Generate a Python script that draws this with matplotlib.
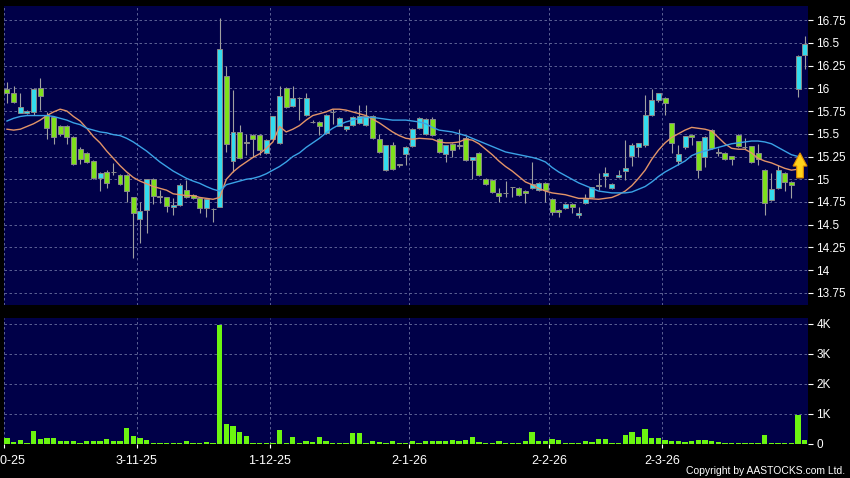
import matplotlib.pyplot as plt
from matplotlib.patches import Polygon

# daily OHLC (HKD), oldest first
opens = [15.99, 15.95, 15.73, 15.73, 15.74, 16.00, 15.71, 15.68, 15.59, 15.59,
         15.46, 15.33, 15.29, 15.20, 15.01, 15.08, 15.08, 15.05, 15.05, 14.80,
         14.56, 14.66, 15.00, 14.81, 14.80, 14.70, 14.72, 14.88, 14.83, 14.79,
         14.68, 14.67, 14.70, 16.14, 15.20, 15.52, 15.40, 15.49, 15.49, 15.29,
         15.44, 15.40, 16.00, 15.80, 15.89, 15.71, 15.63, 15.63, 15.51, 15.74,
         15.585, 15.55, 15.60, 15.615, 15.60, 15.70, 15.44, 15.10, 15.38, 15.16,
         15.28, 15.36, 15.56, 15.50, 15.66, 15.44, 15.28, 15.39, 15.37, 15.45,
         15.21, 15.29, 15.00, 14.99, 14.85, 14.85, 14.91, 14.90, 14.87, 14.90,
         14.88, 14.96, 14.78, 14.66, 14.68, 14.73, 14.61, 14.74, 14.80, 14.93,
         15.04, 14.90, 15.02, 15.09, 15.255, 15.35, 15.375, 15.71, 15.87, 15.89,
         15.615, 15.20, 15.35, 15.49, 15.415, 15.24, 15.54, 15.29, 15.29, 15.255,
         15.49, 15.35, 15.36, 15.29, 15.10, 14.77, 14.90, 15.07, 14.97, 15.99,
         16.37]
highs = [16.07, 16.02, 15.95, 15.76, 16.00, 16.11, 15.74, 15.69, 15.60, 15.60,
         15.47, 15.35, 15.30, 15.21, 15.08, 15.10, 15.18, 15.06, 15.06, 14.81,
         14.75, 15.00, 15.01, 14.88, 14.81, 14.79, 14.96, 14.99, 14.84, 14.80,
         14.79, 14.68, 16.77, 16.24, 15.98, 15.60, 15.50, 15.50, 15.50, 15.44,
         15.70, 16.02, 16.01, 16.02, 15.90, 15.95, 15.65, 15.64, 15.72, 15.77,
         15.68, 15.59, 15.69, 15.82, 15.82, 15.71, 15.50, 15.38, 15.41, 15.17,
         15.36, 15.56, 15.68, 15.67, 15.68, 15.45, 15.38, 15.40, 15.55, 15.47,
         15.25, 15.30, 15.01, 15.00, 14.90, 14.98, 14.92, 14.91, 14.88, 15.19,
         14.97, 14.97, 14.79, 14.67, 14.74, 14.74, 14.69, 14.84, 14.92, 15.07,
         15.14, 14.96, 15.10, 15.43, 15.40, 15.40, 15.93, 15.99, 15.95, 15.90,
         15.62, 15.375, 15.48, 15.50, 15.42, 15.47, 15.55, 15.34, 15.30, 15.26,
         15.50, 15.45, 15.37, 15.39, 15.11, 15.07, 15.16, 15.08, 14.98, 16.37,
         16.57]
lows = [15.84, 15.84, 15.73, 15.72, 15.71, 15.76, 15.44, 15.39, 15.47, 15.39,
        15.16, 15.17, 15.18, 15.00, 14.87, 14.90, 15.05, 14.94, 14.75, 14.13,
        14.30, 14.41, 14.73, 14.74, 14.64, 14.61, 14.71, 14.79, 14.78, 14.63,
        14.59, 14.53, 14.69, 15.30, 15.08, 15.22, 15.27, 15.25, 15.27, 15.28,
        15.43, 15.39, 15.78, 15.79, 15.65, 15.70, 15.62, 15.49, 15.50, 15.61,
        15.58, 15.53, 15.59, 15.61, 15.59, 15.44, 15.29, 15.09, 15.10, 15.14,
        15.16, 15.35, 15.55, 15.49, 15.48, 15.29, 15.19, 15.25, 15.33, 15.20,
        15.00, 15.04, 14.94, 14.85, 14.75, 14.81, 14.81, 14.82, 14.74, 14.89,
        14.87, 14.75, 14.61, 14.59, 14.67, 14.63, 14.57, 14.73, 14.79, 14.88,
        14.92, 14.89, 15.01, 14.99, 15.145, 15.24, 15.35, 15.70, 15.85, 15.71,
        15.285, 15.16, 15.33, 15.375, 15.01, 15.13, 15.33, 15.26, 15.21, 15.16,
        15.35, 15.33, 15.18, 15.16, 14.61, 14.76, 14.89, 14.87, 14.79, 15.90,
        16.21]
closes = [15.95, 15.85, 15.79, 15.745, 15.99, 15.91, 15.56, 15.46, 15.50, 15.46,
          15.17, 15.22, 15.19, 15.01, 15.07, 14.96, 15.08, 14.95, 14.87, 14.63,
          14.65, 15.00, 14.82, 14.81, 14.71, 14.72, 14.94, 14.80, 14.79, 14.68,
          14.78, 14.67, 16.43, 15.39, 15.52, 15.23, 15.40, 15.44, 15.32, 15.43,
          15.69, 15.91, 15.79, 15.89, 15.89, 15.89, 15.63, 15.59, 15.71, 15.74,
          15.67, 15.585, 15.68, 15.70, 15.70, 15.45, 15.30, 15.375, 15.11, 15.16,
          15.35, 15.55, 15.67, 15.66, 15.49, 15.30, 15.375, 15.32, 15.37, 15.21,
          15.24, 15.05, 14.95, 14.86, 14.82, 14.85, 14.91, 14.83, 14.85, 14.95,
          14.96, 14.88, 14.64, 14.64, 14.73, 14.69, 14.63, 14.78, 14.91, 14.93,
          15.07, 14.95, 15.05, 15.12, 15.375, 15.395, 15.71, 15.87, 15.945, 15.84,
          15.395, 15.275, 15.475, 15.46, 15.10, 15.46, 15.34, 15.29, 15.22, 15.22,
          15.36, 15.35, 15.19, 15.22, 14.74, 14.89, 15.10, 14.97, 14.94, 16.35,
          16.49]
# volume in thousands of shares
volumes = [0.20, 0.06, 0.13, 0.02, 0.41, 0.15, 0.18, 0.18, 0.10, 0.07,
           0.08, 0.03, 0.07, 0.08, 0.07, 0.15, 0.08, 0.08, 0.51, 0.26,
           0.17, 0.12, 0.02, 0.01, 0.03, 0.03, 0.03, 0.07, 0.03, 0.03,
           0.06, 0.01, 3.97, 0.65, 0.60, 0.38, 0.25, 0.03, 0.03, 0.02,
           0.01, 0.44, 0.03, 0.21, 0.01, 0.08, 0.04, 0.22, 0.08, 0.03,
           0.03, 0.03, 0.34, 0.34, 0.03, 0.07, 0.04, 0.01, 0.07, 0.02,
           0.01, 0.09, 0.01, 0.08, 0.08, 0.08, 0.08, 0.11, 0.09, 0.13,
           0.22, 0.06, 0.03, 0.03, 0.07, 0.02, 0.02, 0.02, 0.08, 0.38,
           0.07, 0.07, 0.14, 0.12, 0.03, 0.03, 0.03, 0.08, 0.04, 0.16,
           0.16, 0.01, 0.01, 0.27, 0.39, 0.22, 0.47, 0.19, 0.19, 0.13,
           0.10, 0.08, 0.04, 0.07, 0.13, 0.13, 0.07, 0.06, 0.03, 0.03,
           0.03, 0.02, 0.02, 0.03, 0.29, 0.03, 0.03, 0.03, 0.02, 0.97,
           0.13]
# moving averages as drawn on the chart
ma_short = [15.55, 15.54, 15.55, 15.58, 15.61, 15.65, 15.70, 15.74, 15.77, 15.75,
            15.69, 15.64, 15.56, 15.47, 15.40, 15.31, 15.23, 15.15, 15.08, 15.02,
            14.98, 14.95, 14.92, 14.90, 14.88, 14.84, 14.83, 14.82, 14.82, 14.80,
            14.79, 14.78, 14.80, 15.00, 15.08, 15.14, 15.19, 15.24, 15.28, 15.34,
            15.41, 15.58, 15.52, 15.55, 15.59, 15.65, 15.70, 15.72, 15.74, 15.77,
            15.77, 15.76, 15.74, 15.72, 15.70, 15.66, 15.62, 15.57, 15.52, 15.48,
            15.45, 15.44, 15.45, 15.445, 15.44, 15.41, 15.40, 15.40, 15.41, 15.44,
            15.43, 15.39, 15.33, 15.27, 15.20, 15.14, 15.09, 15.03, 14.97, 14.94,
            14.90, 14.87, 14.85, 14.84, 14.83, 14.81, 14.79, 14.79, 14.785, 14.78,
            14.79, 14.80, 14.83, 14.87, 14.93, 15.01, 15.10, 15.22, 15.32, 15.40,
            15.46, 15.50, 15.54, 15.57, 15.56, 15.55, 15.53, 15.46, 15.39, 15.34,
            15.33, 15.33, 15.29, 15.23, 15.20, 15.18, 15.15, 15.12, 15.10, 15.11]
ma_long = [15.64, 15.67, 15.69, 15.70, 15.70, 15.70, 15.70, 15.69, 15.67, 15.65,
           15.62, 15.60, 15.56, 15.54, 15.52, 15.51, 15.49, 15.48, 15.45, 15.41,
           15.36, 15.31, 15.25, 15.19, 15.14, 15.09, 15.05, 15.01, 14.98, 14.955,
           14.92, 14.89, 14.87, 14.94, 14.96, 14.98, 15.00, 15.01, 15.03, 15.06,
           15.10, 15.14, 15.19, 15.25, 15.29, 15.35, 15.40, 15.45, 15.51, 15.56,
           15.60, 15.63, 15.65, 15.67, 15.68, 15.68, 15.67, 15.66, 15.65, 15.65,
           15.65, 15.64, 15.63, 15.61, 15.57, 15.54, 15.53, 15.52, 15.50, 15.48,
           15.45, 15.42, 15.39, 15.36, 15.33, 15.30, 15.285, 15.27, 15.255, 15.24,
           15.22, 15.19, 15.13, 15.08, 15.04, 15.00, 14.96, 14.93, 14.90, 14.87,
           14.86, 14.85, 14.85, 14.85, 14.86, 14.89, 14.92, 14.97, 15.03, 15.08,
           15.12, 15.16, 15.20, 15.26, 15.29, 15.31, 15.33, 15.35, 15.37, 15.39,
           15.40, 15.41, 15.42, 15.42, 15.41, 15.39, 15.35, 15.31, 15.27, 15.25]

date_pos = [0, 20, 40, 61, 82, 99]
date_labels = ['2-10-25', '3-11-25', '1-12-25', '2-1-26', '2-2-26', '2-3-26']
price_ticks = [13.75, 14, 14.25, 14.5, 14.75, 15, 15.25, 15.5, 15.75, 16, 16.25, 16.5, 16.75]
price_labels = ['13.75', '14', '14.25', '14.5', '14.75', '15', '15.25', '15.5',
                '15.75', '16', '16.25', '16.5', '16.75']
vol_ticks = [0, 1, 2, 3, 4]
vol_labels = ['0', '1K', '2K', '3K', '4K']

BG = '#000048'
UP = '#33dcee'
DOWN = '#7ee01c'
VOL = '#6cf510'
EDGE = '#8a8a8a'
GRID = '#6a70a0'
FONT = 'Liberation Sans'

fig = plt.figure(figsize=(8.5, 4.78), dpi=100, facecolor='black')
W, H = 850, 478
ax = fig.add_axes([4 / W, 1 - 305 / H, 804 / W, 299 / H], facecolor=BG)
axv = fig.add_axes([4 / W, 1 - 443.5 / H, 804 / W, 125.5 / H], facecolor=BG)

n = len(closes)
xs = list(range(n))
xlim = (-0.45, n - 0.5)
grid_x = [p - 0.45 for p in date_pos]

for a in (ax, axv):
    for s in a.spines.values():
        s.set_visible(False)
    a.set_xlim(*xlim)
    for gx in grid_x:
        a.axvline(gx, color=GRID, lw=0.6, ls=(0, (3, 3)), zorder=0)
    a.yaxis.tick_right()
    a.tick_params(axis='y', colors='white', labelsize=8.5, length=3.5, width=0.8, pad=2.5)
    a.grid(axis='y', color=GRID, lw=0.6, ls=(0, (3, 3)), zorder=0)
    a.set_axisbelow(True)

# candles
ax.vlines(xs, lows, highs, color='#a0a0a0', lw=0.8, zorder=2)
for i in xs:
    o, c = opens[i], closes[i]
    if abs(c - o) < 0.001:
        fc = '#a0a0a0'
    elif c > o:
        fc = UP
    else:
        fc = DOWN
    ax.bar(i, max(abs(c - o), 0.004), bottom=min(o, c), width=0.75,
           color=fc, edgecolor=EDGE, linewidth=0.7, zorder=3)

ax.plot(range(len(ma_short)), ma_short, color='#e39468', lw=1.0, zorder=4)
ax.plot(range(len(ma_long)), ma_long, color='#3aa2e6', lw=1.0, zorder=4)

# up arrow marker at the end of the long MA
ax_x = len(ma_long) - 1 + 0.3
tip = ma_long[-1] + 0.04
hw, sw, hl, sl = 1.05, 0.5, 0.145, 0.13
arrow = Polygon([(ax_x, tip), (ax_x + hw, tip - hl), (ax_x + sw, tip - hl),
                 (ax_x + sw, tip - hl - sl), (ax_x - sw, tip - hl - sl),
                 (ax_x - sw, tip - hl), (ax_x - hw, tip - hl)],
                closed=True, facecolor='#ffd21a', edgecolor='#e08a00', lw=0.8, zorder=6)
ax.add_patch(arrow)

ax.set_ylim(13.618, 16.904)
ax.set_yticks(price_ticks)
ax.set_yticklabels(price_labels, fontfamily=FONT)
ax.set_xticks([])

# volume
axv.bar(xs, volumes, width=0.8, color=VOL, zorder=3)
axv.set_ylim(0, 4.2)
axv.set_yticks(vol_ticks)
axv.set_yticklabels(vol_labels, fontfamily=FONT)
axv.set_xticks(grid_x)
axv.set_xticklabels(date_labels, fontfamily=FONT)
axv.tick_params(axis='x', colors='white', labelsize=9, length=3, width=0.8, pad=5)

fig.text(845 / W, 1 - 471 / H, 'Copyright by AASTOCKS.com Ltd.', color='white',
         fontsize=7.5, fontfamily=FONT, ha='right', va='center')

fig.savefig('out.png', dpi=100, facecolor='black')
